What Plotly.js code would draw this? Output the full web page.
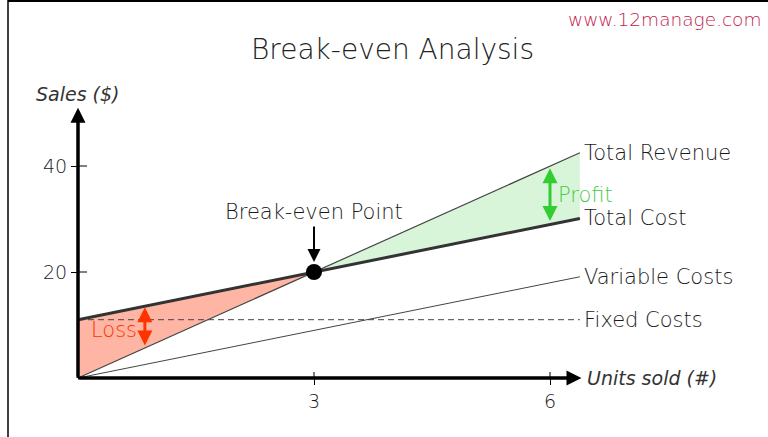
<!DOCTYPE html>
<html>
<head>
<meta charset="utf-8">
<script src="https://cdn.plot.ly/plotly-3.0.1.min.js"></script>
<style>html,body{margin:0;padding:0;background:#fff;}#chart{width:768px;height:437px;}</style>
</head>
<body>
<div id="chart"></div>
<script>
// ---- data ----
const units = [0, 3, 6.38];
const totalRevenue = [0, 20, 42.5];
const totalCost = [11, 20, 30.1];
const variableCosts = [0, 9, 19.1];
const fixedCosts = [11, 11, 11];
const breakEven = {units: 3, sales: 20};
const xTickVals = [3, 6];
const xTickText = ['3', '6'];
const yTickVals = [20, 40];
const yTickText = ['20', '40'];
const lineLabels = ['Total Revenue', 'Total Cost', 'Variable Costs', 'Fixed Costs'];
const profitAt = 6;     // units where the profit arrow is drawn
const lossAt = 0.85;    // units where the loss arrow is drawn
const axisTop = 51;     // y-axis arrow tip (sales)
const axisRight = 6.4;  // x-axis arrow tip (units)

// linear interpolation on a drawn line
function at(xs, ys, x) {
  for (let i = 0; i < xs.length - 1; i++) {
    if (x >= xs[i] && x <= xs[i + 1]) {
      const t = (x - xs[i]) / (xs[i + 1] - xs[i]);
      return ys[i] + t * (ys[i + 1] - ys[i]);
    }
  }
  return ys[ys.length - 1];
}

const font = 'DejaVu Sans, Verdana, sans-serif';
const txt = '#1a1a1a';
const W = 300;

const kx = 236 / 3, ky = 5.3;
const xr = [-78 / kx, (768 - 78) / kx];
const yr = [(378 - 437) / ky, 378 / ky];

const traces = [
  // loss area (revenue below cost, left of break-even)
  {x: units.slice(0, 2), y: totalRevenue.slice(0, 2), mode: 'lines', line: {width: 0}, hoverinfo: 'skip', showlegend: false},
  {x: units.slice(0, 2), y: totalCost.slice(0, 2), mode: 'lines', line: {width: 0}, fill: 'tonexty', fillcolor: '#ffb5a3', hoverinfo: 'skip', showlegend: false},
  // profit area
  {x: units.slice(1), y: totalCost.slice(1), mode: 'lines', line: {width: 0}, hoverinfo: 'skip', showlegend: false},
  {x: units.slice(1), y: totalRevenue.slice(1), mode: 'lines', line: {width: 0}, fill: 'tonexty', fillcolor: '#d9f5d9', hoverinfo: 'skip', showlegend: false},
  // lines
  {x: units, y: fixedCosts, mode: 'lines', name: 'Fixed Costs', line: {color: '#444', width: 1, dash: '6px,4px'}, showlegend: false},
  {x: units, y: variableCosts, mode: 'lines', name: 'Variable Costs', line: {color: '#444', width: 1}, showlegend: false},
  {x: units, y: totalRevenue, mode: 'lines', name: 'Total Revenue', line: {color: '#444', width: 1.2}, showlegend: false},
  {x: units, y: totalCost, mode: 'lines', name: 'Total Cost', line: {color: '#333', width: 3}, showlegend: false},
  // axis lines
  {x: [0, 0], y: [0, axisTop - 1], mode: 'lines', line: {color: '#000', width: 3}, showlegend: false, hoverinfo: 'skip'},
  {x: [0, axisRight - 0.05], y: [0, 0], mode: 'lines', line: {color: '#000', width: 3}, showlegend: false, hoverinfo: 'skip'},
  // break-even point
  {x: [breakEven.units], y: [breakEven.sales], mode: 'markers', marker: {color: '#000', size: 16}, showlegend: false}
];

const last = units.length - 1;
const ends = [totalRevenue[last], totalCost[last], variableCosts[last], fixedCosts[last]];

const annotations = [];
// axes arrowheads
annotations.push({x: 0, y: axisTop, ax: 0, ay: 0, axref: 'x', ayref: 'y', xref: 'x', yref: 'y', text: '', showarrow: true, arrowhead: 2, arrowsize: 1, arrowwidth: 3, arrowcolor: '#000'});
annotations.push({x: axisRight, y: 0, ax: 0, ay: 0, axref: 'x', ayref: 'y', xref: 'x', yref: 'y', text: '', showarrow: true, arrowhead: 2, arrowsize: 1, arrowwidth: 3, arrowcolor: '#000'});
// line labels
lineLabels.forEach((t, i) => {
  annotations.push({x: units[last], y: ends[i], xref: 'x', yref: 'y', text: t, showarrow: false, xanchor: 'left', yanchor: 'middle', xshift: 2, font: {family: font, size: 21, color: txt, weight: W}});
});
// axis titles
annotations.push({x: 0, y: axisTop, xref: 'x', yref: 'y', text: 'Sales ($)', showarrow: false, xanchor: 'center', yanchor: 'middle', yshift: 14, font: {family: font, size: 19, color: '#333', weight: 400, style: 'italic'}});
annotations.push({x: axisRight, y: 0, xref: 'x', yref: 'y', text: 'Units sold (#)', showarrow: false, xanchor: 'left', yanchor: 'middle', xshift: 4, font: {family: font, size: 19, color: '#333', weight: 400, style: 'italic'}});
// break-even
annotations.push({x: breakEven.units, y: breakEven.sales, xref: 'x', yref: 'y', ax: 0, ay: -47, text: '', showarrow: true, arrowhead: 2, arrowsize: 1.3, arrowwidth: 2, arrowcolor: '#000', standoff: 10});
annotations.push({x: breakEven.units, y: breakEven.sales, xref: 'x', yref: 'y', text: 'Break-even Point', showarrow: false, xanchor: 'center', yanchor: 'middle', yshift: 60, font: {family: font, size: 21, color: txt, weight: W}});
// profit
const pTop = at(units, totalRevenue, profitAt), pBot = at(units, totalCost, profitAt);
annotations.push({x: profitAt, y: pTop, ax: profitAt, ay: pBot, axref: 'x', ayref: 'y', xref: 'x', yref: 'y', text: '', showarrow: true, arrowside: 'end+start', arrowhead: 2, arrowsize: 1, arrowwidth: 3, arrowcolor: '#33cc33', standoff: 2, startstandoff: 2});
annotations.push({x: profitAt, y: (pTop + pBot) / 2, xref: 'x', yref: 'y', text: 'Profit', showarrow: false, xanchor: 'left', yanchor: 'middle', xshift: 6, font: {family: font, size: 21, color: '#44cc44', weight: W}});
// loss
const lTop = at(units, totalCost, lossAt), lBot = at(units, totalRevenue, lossAt);
annotations.push({x: lossAt, y: lTop, ax: lossAt, ay: lBot, axref: 'x', ayref: 'y', xref: 'x', yref: 'y', text: '', showarrow: true, arrowside: 'end+start', arrowhead: 2, arrowsize: 1, arrowwidth: 3, arrowcolor: '#ff3300', standoff: 1, startstandoff: 1});
annotations.push({x: lossAt, y: (lTop + lBot) / 2, xref: 'x', yref: 'y', text: 'Loss', showarrow: false, xanchor: 'right', yanchor: 'middle', xshift: -6, yshift: -3, font: {family: font, size: 21, color: '#ff3300', weight: W}});
// title & source
annotations.push({x: 392 / 768, y: 1 - 50 / 437, xref: 'paper', yref: 'paper', text: 'Break-even Analysis', showarrow: false, xanchor: 'center', yanchor: 'middle', font: {family: font, size: 28, color: '#222', weight: 200}});
annotations.push({x: 763 / 768, y: 1 - 20 / 437, xref: 'paper', yref: 'paper', text: 'www.12manage.com', showarrow: false, xanchor: 'right', yanchor: 'middle', font: {family: font, size: 18.5, color: '#c0184c', weight: W}});

const shapes = [];
// inner halves of tick marks (the outer halves are the axis ticks)
xTickVals.forEach(v => shapes.push({type: 'line', xref: 'x', yref: 'y', x0: v, x1: v, y0: 0, y1: 6 / ky, line: {color: '#000', width: 1}}));
yTickVals.forEach(v => shapes.push({type: 'line', xref: 'x', yref: 'y', y0: v, y1: v, x0: 0, x1: 9 / kx, line: {color: '#000', width: 1}}));
// frame
shapes.push({type: 'line', xref: 'paper', yref: 'paper', x0: 8 / 768, x1: 8 / 768, y0: 0, y1: 1, line: {color: '#000', width: 1.5}});
shapes.push({type: 'line', xref: 'paper', yref: 'paper', x0: 8 / 768, x1: 1, y0: 1 - 1 / 437, y1: 1 - 1 / 437, line: {color: '#000', width: 2}});

const layout = {
  width: 768, height: 437,
  margin: {l: 0, r: 0, t: 0, b: 0},
  paper_bgcolor: '#fff', plot_bgcolor: '#fff',
  showlegend: false,
  xaxis: {range: xr, showgrid: false, zeroline: false, showline: false, anchor: 'free', position: (0 - yr[0]) / (yr[1] - yr[0]),
    tickmode: 'array', tickvals: xTickVals, ticktext: xTickText, ticks: 'outside', ticklen: 6, tickcolor: '#000', tickwidth: 1,
    tickfont: {family: font, size: 19, color: txt, weight: W}, fixedrange: true},
  yaxis: {range: yr, showgrid: false, zeroline: false, showline: false, anchor: 'free', position: (0 - xr[0]) / (xr[1] - xr[0]),
    tickmode: 'array', tickvals: yTickVals, ticktext: yTickText, ticks: 'outside', ticklen: 7, tickcolor: '#000', tickwidth: 1,
    tickfont: {family: font, size: 19, color: txt, weight: W}, fixedrange: true},
  annotations: annotations,
  shapes: shapes
};

Plotly.newPlot('chart', traces, layout, {staticPlot: true, displayModeBar: false});
</script>
</body>
</html>
